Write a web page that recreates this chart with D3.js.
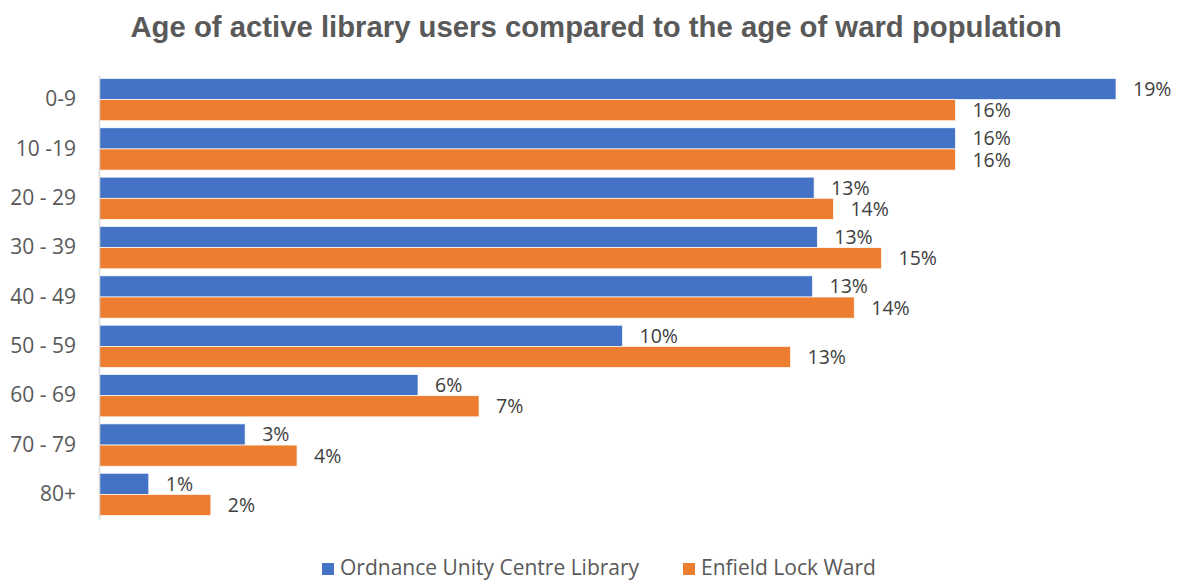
<!DOCTYPE html>
<html><head><meta charset="utf-8">
<script src="https://cdn.jsdelivr.net/npm/d3@7"></script>
<style>body{margin:0;background:#fff}svg{display:block}</style>
</head><body><svg id="c" width="1180" height="581"></svg>
<script>
const categories = ["0-9","10 -19","20 - 29","30 - 39","40 - 49","50 - 59","60 - 69","70 - 79","80+"];
const seriesNames = ["Ordnance Unity Centre Library","Enfield Lock Ward"];
const libraryValues = [0.190,0.160,0.1336,0.1342,0.1333,0.0978,0.0596,0.0273,0.0093];
const wardValues = [0.160,0.160,0.1372,0.1462,0.1411,0.1292,0.0710,0.0370,0.0209];
const colors = ["#4472C4","#ED7D31"];
const title = "Age of active library users compared to the age of ward population";

const svg = d3.select("#c");
const labelFont = "'Open Sans', sans-serif";
const x = d3.scaleLinear().domain([0,0.19]).range([99,1116]);
const y = d3.scaleBand().domain(categories).range([75,519]).paddingInner(0.143).paddingOuter(0.07);
const y2 = d3.scaleBand().domain([0,1]).range([0,y.bandwidth()]);
const fmt = d3.format(".0%");

svg.append("text").attr("x",596).attr("y",37).attr("text-anchor","middle")
  .attr("font-family","'Liberation Sans', Arial, sans-serif").attr("font-weight","bold")
  .attr("font-size",29.3).attr("fill","#595959").text(title);

const series = [libraryValues, wardValues];
const g = svg.append("g");
series.forEach((vals,si)=>{
  g.selectAll(".b"+si).data(categories).enter().append("rect")
    .attr("x",x(0)).attr("y",d=>y(d)+y2(si))
    .attr("width",(d,i)=>x(vals[i])-x(0)).attr("height",y2.bandwidth())
    .attr("fill",colors[si]).attr("stroke","#fff").attr("stroke-width",0.7);
  g.selectAll(".l"+si).data(categories).enter().append("text")
    .attr("x",(d,i)=>x(vals[i])+17).attr("y",d=>y(d)+y2(si)+y2.bandwidth()/2)
    .attr("dy","0.36em").attr("font-family",labelFont).attr("font-size",19.5)
    .attr("fill","#404040").text((d,i)=>fmt(vals[i]));
});

const axis = svg.append("g").attr("transform",`translate(${x(0)},0)`)
  .call(d3.axisLeft(y).tickSize(0).tickPadding(23));
axis.select(".domain").attr("stroke","#D9D9D9").attr("stroke-width",1.5);
axis.selectAll("text").attr("font-family",labelFont).attr("font-size",21).attr("fill","#595959");

const leg = svg.append("g");
const legX = [322,683];
seriesNames.forEach((n,i)=>{
  leg.append("rect").attr("x",legX[i]).attr("y",563).attr("width",12).attr("height",12).attr("fill",colors[i]);
  leg.append("text").attr("x",legX[i]+18).attr("y",575).attr("font-family",labelFont)
    .attr("font-size",21).attr("fill","#595959").text(n);
});
</script></body></html>
